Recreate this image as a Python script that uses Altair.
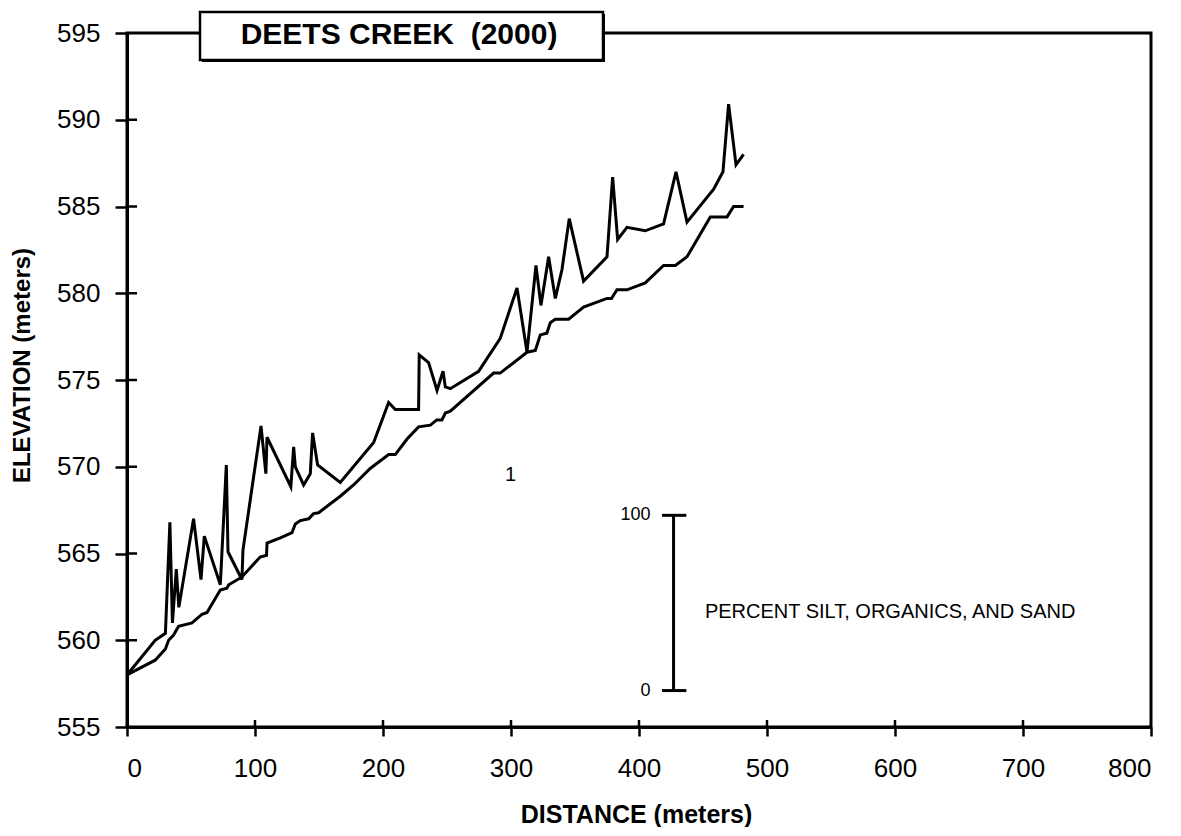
import altair as alt
import pandas as pd

# ---- data ----
upper_dist = [0, 22, 30, 33.5, 35.5, 38.5, 40.5, 52, 57.8, 60.4, 72.9, 77.6, 78.9, 89.8, 90.6,
              104.7, 108.5, 109.4, 128, 130.2, 131.5, 138, 143.2, 145, 148.9, 166.6, 192.7,
              204.4, 209.6, 227.8, 228.3, 235.6, 242.2, 246.9, 248.7, 252.6, 274.7, 291.6,
              304.7, 312.5, 319.5, 323.4, 329.4, 334.6, 339.8, 345.5, 356.7, 375, 379.4,
              383.3, 390.6, 404.9, 419.2, 428.9, 437.5, 458.3, 465.6, 470, 475.8, 481.7]
upper_elev = [558.0, 560.0, 560.4, 566.8, 561.0, 564.1, 561.9, 567.0, 563.5, 566.0, 563.2, 570.1,
              565.1, 563.5, 565.2, 572.35, 569.6, 571.7, 568.85, 571.15, 570.0, 568.95, 569.6,
              571.95, 570.1, 569.1, 571.4, 573.7, 573.3, 573.3, 576.45, 576.0, 574.4, 575.5,
              574.6, 574.5, 575.5, 577.4, 580.3, 576.6, 581.6, 579.3, 582.1, 579.7, 581.35,
              584.3, 580.7, 582.1, 586.7, 583.1, 583.8, 583.6, 584.0, 587.0, 584.1, 586.0,
              587.0, 590.9, 587.4, 588.0]

lower_dist = [0, 22, 30, 32.5, 36.4, 40.3, 50.8, 58.6, 62.5, 72.9, 78, 79.5, 89.8, 104, 109,
              109.4, 119.8, 128.9, 131.5, 135.4, 141.9, 145.8, 149.7, 166.6, 177, 190, 204.4,
              209.6, 218.8, 227.8, 237, 242, 246, 248.7, 252.6, 286.4, 291.6, 312.5, 319,
              322.9, 328, 330.7, 334.6, 345, 356.7, 375, 378.5, 382.8, 390.6, 404.9, 419.2,
              428.4, 437.5, 455.7, 468.8, 473.9, 481.7]
lower_elev = [558.0, 558.85, 559.5, 560.0, 560.3, 560.8, 561.0, 561.5, 561.6, 562.9, 563.0,
              563.2, 563.65, 564.8, 564.9, 565.6, 565.9, 566.2, 566.7, 566.9, 567.0, 567.3,
              567.35, 568.3, 568.95, 569.9, 570.7, 570.7, 571.6, 572.3, 572.4, 572.7, 572.7,
              573.1, 573.2, 575.4, 575.4, 576.6, 576.7, 577.6, 577.7, 578.3, 578.5, 578.5,
              579.2, 579.7, 579.7, 580.2, 580.2, 580.6, 581.6, 581.6, 582.1, 584.4, 584.4,
              585.0, 585.0]

x_ticks = [0, 100, 200, 300, 400, 500, 600, 700, 800]
y_ticks = [555, 560, 565, 570, 575, 580, 585, 590, 595]

title_text = "DEETS CREEK\u00a0\u00a0(2000)"
x_title = "DISTANCE (meters)"
y_title = "ELEVATION (meters)"

# scale bar annotation (in data units)
bar_x = [427]
bar_cap_x = [418, 437]
bar_y = [557.1, 567.2]
bar_labels = ["0", "100"]
bar_label_x = [409, 409]
bar_caption = ["PERCENT SILT, ORGANICS, AND SAND"]
bar_caption_pos = [(451.5, 561.6)]
stray_label = ["1"]
stray_pos = [(299.6, 569.5)]

W, H = 1024, 694
FONT = "Liberation Sans"

xs = alt.Scale(domain=[0, 800], nice=False)
ys = alt.Scale(domain=[555, 595], nice=False, zero=False)

rows = []
for i, (d, e) in enumerate(zip(upper_dist, upper_elev)):
    rows.append({"x": d, "y": e, "series": "upper", "i": i})
for i, (d, e) in enumerate(zip(lower_dist, lower_elev)):
    rows.append({"x": d, "y": e, "series": "lower", "i": i})
df = pd.DataFrame(rows)

x_axis = alt.Axis(values=x_ticks, grid=False, tickSize=9, tickWidth=2.5, tickColor="black",
                  domainColor="black", domainWidth=3, labelFontSize=26, labelFont=FONT,
                  labelColor="black", labelPadding=19, title=x_title, titleFont=FONT,
                  titleFontSize=25, titleFontWeight="bold", titleColor="black",
                  titleX=509, titleY=95, titleBaseline="alphabetic", titleAlign="center")
y_axis = alt.Axis(values=y_ticks, grid=False, tickSize=12, tickWidth=2.5, tickColor="black",
                  domainColor="black", domainWidth=3, labelFontSize=26, labelFont=FONT,
                  labelColor="black", labelPadding=15, title=y_title, titleFont=FONT,
                  titleFontSize=24, titleFontWeight="bold", titleColor="black",
                  titleX=-105, titleY=332, titleAngle=270, titleBaseline="middle",
                  titleAlign="center")


def X(f="x"):
    return alt.X(f + ":Q", scale=xs, axis=x_axis)


def Y(f="y"):
    return alt.Y(f + ":Q", scale=ys, axis=y_axis)


lines = alt.Chart(df).mark_line(color="black", strokeWidth=3, strokeJoin="miter").encode(
    x=X(), y=Y(), detail="series:N", order="i:Q")

ytick_df = pd.DataFrame({"y": y_ticks[1:-1]})
xtick_df = pd.DataFrame({"x": x_ticks[1:-1]})
inner_y = alt.Chart(ytick_df).mark_rule(color="black", strokeWidth=2.5).encode(
    y=Y(), x=alt.value(0), x2=alt.value(10))
inner_x = alt.Chart(xtick_df).mark_rule(color="black", strokeWidth=2.5).encode(
    x=X(), y=alt.value(H), y2=alt.value(H - 7))

bar_v = alt.Chart(pd.DataFrame({"x": bar_x, "y": [bar_y[0]], "y2": [bar_y[1]]})).mark_rule(
    color="black", strokeWidth=3).encode(x=X(), y=Y(), y2="y2:Q")
bar_caps = alt.Chart(pd.DataFrame({"x": [bar_cap_x[0]] * 2, "x2": [bar_cap_x[1]] * 2,
                                   "y": bar_y})).mark_rule(color="black", strokeWidth=3).encode(
    x=X(), x2="x2:Q", y=Y())
bar_text = alt.Chart(pd.DataFrame({"x": bar_label_x, "y": bar_y, "t": bar_labels})).mark_text(
    align="right", baseline="middle", fontSize=18, font=FONT, color="black").encode(
    x=X(), y=Y(), text="t:N")
cap_text = alt.Chart(pd.DataFrame({"x": [bar_caption_pos[0][0]], "y": [bar_caption_pos[0][1]],
                                   "t": bar_caption})).mark_text(
    align="left", baseline="middle", fontSize=20, font=FONT, color="black").encode(
    x=X(), y=Y(), text="t:N")
stray_text = alt.Chart(pd.DataFrame({"x": [stray_pos[0][0]], "y": [stray_pos[0][1]],
                                     "t": stray_label})).mark_text(
    align="center", baseline="middle", fontSize=20, font=FONT, color="black").encode(
    x=X(), y=Y(), text="t:N")

tdf = pd.DataFrame({"t": [title_text]})
box_shadow = alt.Chart(tdf).mark_rect(fill="black").encode(
    x=alt.value(75), x2=alt.value(478), y=alt.value(-19), y2=alt.value(29))
box = alt.Chart(tdf).mark_rect(fill="white", stroke="black", strokeWidth=2.5).encode(
    x=alt.value(73), x2=alt.value(476), y=alt.value(-21), y2=alt.value(27))
box_text = alt.Chart(tdf).mark_text(fontSize=30, fontWeight="bold", font=FONT, color="black",
                                    align="center", baseline="middle").encode(
    x=alt.value(272), y=alt.value(2), text="t:N")

chart = alt.layer(lines, inner_y, inner_x, bar_v, bar_caps, bar_text, cap_text, stray_text,
                  box_shadow, box, box_text).properties(
    width=W, height=H,
    background="white",
    autosize=alt.AutoSizeParams(type="none"),
    padding={"left": 119, "top": 25, "right": 10, "bottom": 100},
).configure_view(stroke="black", strokeWidth=3)

chart.save("out.html", embed_options={"renderer": "svg", "actions": False})
